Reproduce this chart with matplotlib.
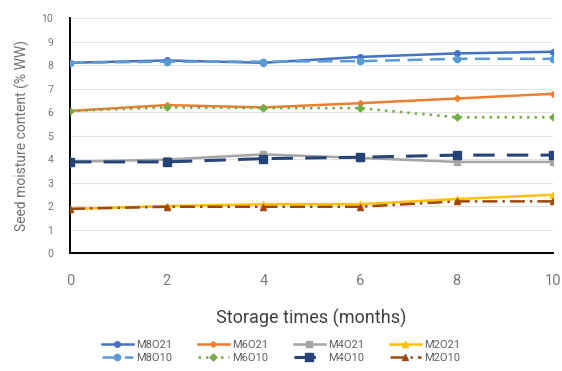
import matplotlib
matplotlib.use("Agg")
import matplotlib.pyplot as plt

months = [0, 2, 4, 6, 8, 10]
series_names = ["M8O21", "M8O10", "M6O21", "M6O10", "M4O21", "M4O10", "M2O21", "M2O10"]
m8o21 = [8.1, 8.2, 8.1, 8.35, 8.5, 8.57]
m8o10 = [8.1, 8.15, 8.15, 8.17, 8.27, 8.27]
m6o21 = [6.05, 6.3, 6.2, 6.38, 6.58, 6.78]
m6o10 = [6.05, 6.2, 6.17, 6.17, 5.78, 5.78]
m4o21 = [3.88, 3.98, 4.2, 4.05, 3.88, 3.88]
m4o10 = [3.88, 3.88, 4.02, 4.08, 4.17, 4.17]
m2o21 = [1.88, 2.0, 2.08, 2.08, 2.3, 2.48]
m2o10 = [1.88, 1.97, 1.97, 1.97, 2.2, 2.2]
values = [m8o21, m8o10, m6o21, m6o10, m4o21, m4o10, m2o21, m2o10]
yticks = list(range(0, 11))
xticks = [0, 2, 4, 6, 8, 10]

colors = ["#4472C4", "#5B9BD5", "#ED7D31", "#70AD47", "#A5A5A5", "#264478", "#FFC000", "#9E480E"]
styles = ["-", (0, (6, 3)), "-", (0, (1, 2)), "-", (0, (7, 4)), "-", (0, (6, 2, 1, 2))]
markers = ["o", "o", "D", "D", "s", "s", "^", "^"]
msizes = [4, 4.5, 3, 3.5, 4.5, 5.5, 4.5, 4.5]
lws = [1.8, 1.8, 1.8, 1.8, 1.8, 2.2, 1.8, 1.8]

plt.rcParams['font.family'] = ['Roboto', 'DejaVu Sans']
fig = plt.figure(figsize=(5.62, 3.71), dpi=100)
ax = fig.add_axes([0.1246, 0.318, 0.860, 0.633])

for name, v, c, ls, m, ms, lw in zip(series_names, values, colors, styles, markers, msizes, lws):
    ax.plot(months, v, color=c, linestyle=ls, marker=m, markersize=ms, linewidth=lw, label=name, zorder=3)

ax.set_xlim(0, 10)
ax.set_ylim(0, 10)
ax.set_xticks(xticks)
ax.set_yticks(yticks)
ax.grid(axis='y', color='#E3E3E3', linewidth=0.8, zorder=0)
ax.set_axisbelow(True)
for s in ['top', 'right']:
    ax.spines[s].set_visible(False)
ax.spines['left'].set_color('black')
ax.spines['bottom'].set_color('black')
ax.spines['left'].set_linewidth(1.4)
ax.spines['bottom'].set_linewidth(1.4)
ax.tick_params(axis='both', length=0, colors='#787878')
ax.tick_params(axis='x', labelsize=10.5, pad=15)
ax.tick_params(axis='y', labelsize=7.5, pad=12)
ax.set_xlabel("Storage times (months)", fontsize=13, color='#404040', labelpad=15)
ax.set_ylabel("Seed moisture content (% WW)", fontsize=10, color='#707070', labelpad=8)

handles, labels = ax.get_legend_handles_labels()
leg = fig.legend(handles, labels, loc='lower center', bbox_to_anchor=(0.5, -0.005), ncol=4,
                 fontsize=8, frameon=False, handlelength=2.8, columnspacing=2.3,
                 labelspacing=0.3, handletextpad=0.3)
for t in leg.get_texts():
    t.set_color('#606060')

fig.savefig("out.png", dpi=100)
